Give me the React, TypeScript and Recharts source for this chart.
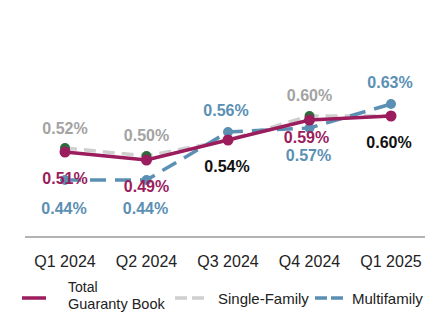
import React from 'react';
import { LineChart, Line, XAxis, YAxis, Legend, LabelList } from 'recharts';

const quarters = ['Q1 2024', 'Q2 2024', 'Q3 2024', 'Q4 2024', 'Q1 2025'];
const totalBook = [0.51, 0.49, 0.54, 0.59, 0.6];
const singleFamily = [0.52, 0.5, 0.54, 0.6, 0.6];
const multifamily = [0.44, 0.44, 0.56, 0.57, 0.63];
const singleFamilyLabelShown = [true, true, false, true, false];

const data = quarters.map((q, i) => ({
  q,
  total: totalBook[i],
  single: singleFamily[i],
  multi: multifamily[i],
}));

const FONT = '"Liberation Sans", Arial, sans-serif';
const MAROON = '#9b1d5d';
const GRAY_LINE = '#cfcfcf';
const GRAY_TEXT = '#a3a3a3';
const BLUE = '#5b90b4';
const GREEN = '#2f6a3e';

const fmt = (v: number) => `${v.toFixed(2)}%`;

const makeLabel = (cfg: {
  dy: number[];
  dx?: number[];
  colors: string[];
  show?: boolean[];
}) => (props: any) => {
  const { x, y, value, index } = props;
  if (cfg.show && !cfg.show[index]) return null;
  return (
    <text
      x={Number(x) + (cfg.dx ? cfg.dx[index] : 0)}
      y={Number(y) + cfg.dy[index]}
      textAnchor="middle"
      dominantBaseline="central"
      fontFamily={FONT}
      fontWeight="bold"
      fontSize={16}
      fill={cfg.colors[index]}
    >
      {fmt(Number(value))}
    </text>
  );
};

const totalLabel = makeLabel({
  dy: [26, 26, 26, 17, 26],
  dx: [0, 0, -1, -3, -2],
  colors: [MAROON, MAROON, '#111111', MAROON, '#111111'],
});
const singleLabel = makeLabel({
  dy: [-20, -21, 0, -21, 0],
  colors: Array(5).fill(GRAY_TEXT),
  show: singleFamilyLabelShown,
});
const multiLabel = makeLabel({
  dy: [28, 28, -22, 27, -22],
  dx: [-1, -1, -2, -1, -1],
  colors: Array(5).fill(BLUE),
});

const LegendContent = () => (
  <svg width={425} height={34} style={{ display: 'block' }}>
    <line x1={22} x2={46} y1={18} y2={18} stroke={MAROON} strokeWidth={3.5} />
    <text x={68} y={12} fontFamily={FONT} fontSize={14} fill="#222">Total</text>
    <text x={68} y={28.5} fontFamily={FONT} fontSize={14.5} fill="#222">Guaranty Book</text>
    <line x1={175} x2={204} y1={18} y2={18} stroke={GRAY_LINE} strokeWidth={3.5} strokeDasharray="12 5" />
    <text x={218} y={23.5} fontFamily={FONT} fontSize={15} fill="#222">Single-Family</text>
    <line x1={315} x2={343} y1={18} y2={18} stroke={BLUE} strokeWidth={3.5} strokeDasharray="12 4" />
    <text x={352} y={23.5} fontFamily={FONT} fontSize={15} fill="#222">Multifamily</text>
  </svg>
);

export default function App() {
  return (
    <div style={{ position: 'absolute', left: 0, top: 0, width: 425, height: 314, background: '#fff' }}>
      <LineChart width={425} height={314} data={data} margin={{ top: 20, right: 0, bottom: 0, left: 25 }}>
        <XAxis
          dataKey="q"
          scale="point"
          padding={{ left: 40, right: 34 }}
          height={43}
          tickLine={false}
          tickSize={0}
          tickMargin={19}
          axisLine={{ stroke: '#b3b3b3', strokeWidth: 2 }}
          tick={{ fontFamily: FONT, fontSize: 16, fill: '#222' }}
          interval={0}
        />
        <YAxis hide domain={[0.2975, 0.84]} type="number" allowDataOverflow />
        <Legend
          verticalAlign="bottom"
          content={<LegendContent />}
          wrapperStyle={{ left: 0, width: 425, height: 34 }}
        />
        <Line
          dataKey="single"
          stroke={GRAY_LINE}
          strokeWidth={3.5}
          strokeDasharray="12 7"
          dot={{ r: 5, fill: GREEN, stroke: GREEN, strokeWidth: 0 }}
          isAnimationActive={false}
        >
          <LabelList dataKey="single" content={singleLabel} />
        </Line>
        <Line
          dataKey="multi"
          stroke={BLUE}
          strokeWidth={3.5}
          strokeDasharray="16 9"
          dot={{ r: 5, fill: BLUE, stroke: BLUE, strokeWidth: 0 }}
          isAnimationActive={false}
        >
          <LabelList dataKey="multi" content={multiLabel} />
        </Line>
        <Line
          dataKey="total"
          stroke={MAROON}
          strokeWidth={3.5}
          dot={{ r: 5.5, fill: MAROON, stroke: MAROON, strokeWidth: 0 }}
          isAnimationActive={false}
        >
          <LabelList dataKey="total" content={totalLabel} />
        </Line>
      </LineChart>
    </div>
  );
}
